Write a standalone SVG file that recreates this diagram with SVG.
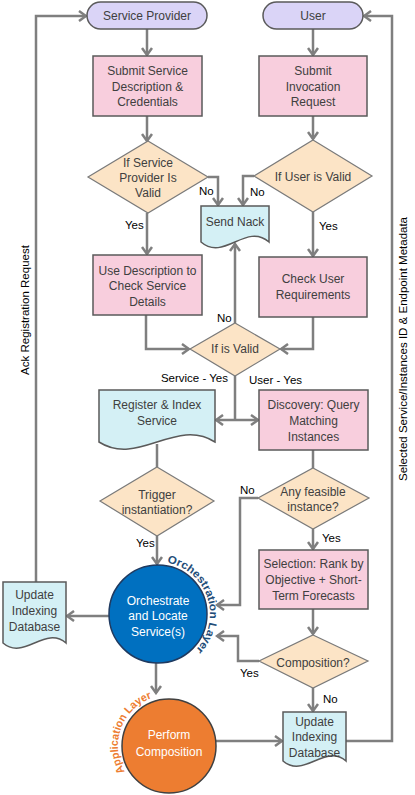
<svg xmlns="http://www.w3.org/2000/svg" width="415" height="795" viewBox="0 0 415 795">
<style>
.bx{fill:#F8CEDD;stroke:#5A5A5A;stroke-width:1.5}
.dm{fill:#FCE4C6;stroke:#7A7A7A;stroke-width:1.2}
.st{fill:#DAD4F7;stroke:#5A5A5A;stroke-width:1.5}
.dc{fill:#D4F0F5;stroke:#5A5A5A;stroke-width:1.5}
.t{font-family:"Liberation Sans",Arial,sans-serif;font-size:12px;fill:#404040;text-anchor:middle}
.w{fill:#FFFFFF}
.lb{font-family:"Liberation Sans",Arial,sans-serif;font-size:11.5px;fill:#000}
.cn{fill:none;stroke:#7F7F7F;stroke-width:2.5}
.ar{marker-end:url(#ah)}
</style>
<defs>
<marker id="ah" markerUnits="userSpaceOnUse" markerWidth="12" markerHeight="12" viewBox="0 0 12 12" refX="10" refY="6" orient="auto-start-reverse">
<path d="M3,1 L10,6 L3,11" fill="none" stroke="#7F7F7F" stroke-width="2.5"/>
</marker>
<path id="orchArc" d="M167,562.8 A52,52 0 0 1 194.8,650.8"/>
<path id="appArc" d="M124.8,771.5 A51,51 0 0 1 153.2,697.5"/>
</defs>

<g id="connectors">
<polyline class="cn ar" points="36,582 36,16 86,16"/>
<line class="cn ar" x1="147" y1="29" x2="147" y2="55"/>
<line class="cn ar" x1="147" y1="116" x2="147" y2="141"/>
<polyline class="cn ar" points="208,177 218,177 218,205"/>
<line class="cn ar" x1="147" y1="213" x2="147" y2="254"/>
<polyline class="cn ar" points="146,315 146,349 189,349"/>
<line class="cn ar" x1="313" y1="29" x2="313" y2="55"/>
<line class="cn ar" x1="313" y1="116" x2="313" y2="139"/>
<polyline class="cn ar" points="254,176 243,176 243,205"/>
<line class="cn ar" x1="313" y1="212" x2="313" y2="256"/>
<polyline class="cn ar" points="313,317 313,349 281,349"/>
<line class="cn ar" x1="235" y1="323" x2="235" y2="244"/>
<line class="cn" x1="235" y1="376" x2="235" y2="420"/>
<line class="cn ar" x1="216" y1="420" x2="258" y2="420" style="marker-start:url(#ah)"/>
<line class="cn" x1="157" y1="444" x2="157" y2="467"/>
<line class="cn ar" x1="157" y1="536" x2="157" y2="564"/>
<line class="cn" x1="313" y1="450" x2="313" y2="468"/>
<polyline class="cn ar" points="258,498 240,498 240,605 217,605"/>
<line class="cn ar" x1="313" y1="529" x2="313" y2="549"/>
<line class="cn ar" x1="313" y1="609" x2="313" y2="634"/>
<polyline class="cn ar" points="259,661 238,661 238,636 217,636"/>
<line class="cn ar" x1="313" y1="688" x2="313" y2="711"/>
<line class="cn ar" x1="109" y1="616" x2="67" y2="616"/>
<line class="cn ar" x1="156" y1="663" x2="156" y2="693"/>
<line class="cn ar" x1="216" y1="741" x2="282" y2="741"/>
<polyline class="cn ar" points="346,741 392,741 392,16 364,16"/>
</g>

<g id="labels">
<text class="lb" x="199" y="195">No</text>
<text class="lb" x="250" y="196">No</text>
<text class="lb" x="125" y="229">Yes</text>
<text class="lb" x="319" y="230">Yes</text>
<text class="lb" x="217" y="322">No</text>
<text class="lb" x="228" y="382" text-anchor="end">Service - Yes</text>
<text class="lb" x="249" y="384">User - Yes</text>
<text class="lb" x="240" y="494">No</text>
<text class="lb" x="136" y="547">Yes</text>
<text class="lb" x="322" y="542">Yes</text>
<text class="lb" x="240" y="677">Yes</text>
<text class="lb" x="323" y="703">No</text>
<text class="lb" transform="translate(29,310) rotate(-90)" text-anchor="middle" font-size="12">Ack  Registration Request</text>
<text class="lb" transform="translate(407,349) rotate(-90)" text-anchor="middle" font-size="11.5" fill="#333">Selected Service/Instances ID &amp; Endpoint Metadata</text>
</g>

<g id="serviceProvider">
<rect class="st" x="87" y="2" width="120" height="27" rx="13.5"/>
<text class="t" x="147" y="20">Service Provider</text>
</g>
<g id="user">
<rect class="st" x="263" y="2" width="100" height="27" rx="13.5"/>
<text class="t" x="313" y="20">User</text>
</g>
<g id="submitService">
<rect class="bx" x="93" y="56" width="109" height="60"/>
<text class="t" x="147.5" y="75">Submit Service</text>
<text class="t" x="147.5" y="91">Description &amp;</text>
<text class="t" x="147.5" y="106">Credentials</text>
</g>
<g id="submitInvocation">
<rect class="bx" x="259" y="56" width="108" height="60"/>
<text class="t" x="313" y="75">Submit</text>
<text class="t" x="313" y="91">Invocation</text>
<text class="t" x="313" y="106">Request</text>
</g>
<g id="spValid">
<polygon class="dm" points="148,141 208,177 148,213 88,177"/>
<text class="t" x="148" y="167">If Service</text>
<text class="t" x="148" y="182">Provider Is</text>
<text class="t" x="148" y="197">Valid</text>
</g>
<g id="userValid">
<polygon class="dm" points="313,140 372,176 313,212 254,176"/>
<text class="t" x="313" y="181">If User is Valid</text>
</g>
<g id="sendNack">
<path class="dc" d="M201,206 H269 V242 C246,222 224,262 201,242 Z"/>
<text class="t" x="235" y="226">Send Nack</text>
</g>
<g id="useDescription">
<rect class="bx" x="93" y="255" width="109" height="60"/>
<text class="t" x="147.5" y="275">Use Description to</text>
<text class="t" x="147.5" y="290">Check Service</text>
<text class="t" x="147.5" y="306">Details</text>
</g>
<g id="checkUser">
<rect class="bx" x="259" y="257" width="108" height="60"/>
<text class="t" x="313" y="283">Check User</text>
<text class="t" x="313" y="299">Requirements</text>
</g>
<g id="isValid">
<polygon class="dm" points="235,323 280,349 235,376 190,349"/>
<text class="t" x="235" y="353">If is Valid</text>
</g>
<g id="registerIndex">
<path class="dc" d="M99,390 H215 V442 C176,417 138,467 99,442 Z"/>
<text class="t" x="157" y="409">Register &amp; Index</text>
<text class="t" x="157" y="425">Service</text>
</g>
<g id="discovery">
<rect class="bx" x="259" y="390" width="109" height="60"/>
<text class="t" x="313.5" y="409">Discovery: Query</text>
<text class="t" x="313.5" y="425">Matching</text>
<text class="t" x="313.5" y="441">Instances</text>
</g>
<g id="trigger">
<polygon class="dm" points="157,467 214,501 157,536 100,501"/>
<text class="t" x="157" y="499">Trigger</text>
<text class="t" x="157" y="514">instantiation?</text>
</g>
<g id="anyFeasible">
<polygon class="dm" points="313,468 369,498 313,529 258,498"/>
<text class="t" x="313" y="496">Any feasible</text>
<text class="t" x="313" y="511">instance?</text>
</g>
<g id="selection">
<rect class="bx" x="259" y="550" width="109" height="59"/>
<text class="t" x="313.5" y="568">Selection: Rank by</text>
<text class="t" x="313.5" y="584">Objective + Short-</text>
<text class="t" x="313.5" y="600">Term Forecasts</text>
</g>
<g id="composition">
<polygon class="dm" points="313,635 368,661 313,688 259,661"/>
<text class="t" x="313" y="667">Composition?</text>
</g>
<g id="updateLeft">
<path class="dc" d="M3,582 H66 V643 C45,625 24,661 3,643 Z"/>
<text class="t" x="34.5" y="599">Update</text>
<text class="t" x="34.5" y="615">Indexing</text>
<text class="t" x="34.5" y="631">Database</text>
</g>
<g id="orchestrate">
<circle cx="158" cy="614" r="49" fill="#0070C0" stroke="#1F3A60" stroke-width="1.5"/>
<text class="t w" x="158" y="605">Orchestrate</text>
<text class="t w" x="158" y="620">and Locate</text>
<text class="t w" x="158" y="636">Service(s)</text>
<text font-family="Liberation Sans,Arial,sans-serif" font-size="11" font-weight="bold" fill="#1F4E79"><textPath href="#orchArc" textLength="112" lengthAdjust="spacingAndGlyphs">Orchestration Layer</textPath></text>
</g>
<g id="performComposition">
<circle cx="169" cy="746" r="47" fill="#ED7D31" stroke="#404040" stroke-width="1.5"/>
<text class="t w" x="169" y="739">Perform</text>
<text class="t w" x="169" y="756">Composition</text>
<text font-family="Liberation Sans,Arial,sans-serif" font-size="11" font-weight="bold" fill="#ED7D31"><textPath href="#appArc" textLength="89" lengthAdjust="spacingAndGlyphs">Application Layer</textPath></text>
</g>
<g id="updateRight">
<path class="dc" d="M283,712 H346 V761 C325,743 304,779 283,761 Z"/>
<text class="t" x="314.5" y="726">Update</text>
<text class="t" x="314.5" y="741">Indexing</text>
<text class="t" x="314.5" y="757">Database</text>
</g>
</svg>
